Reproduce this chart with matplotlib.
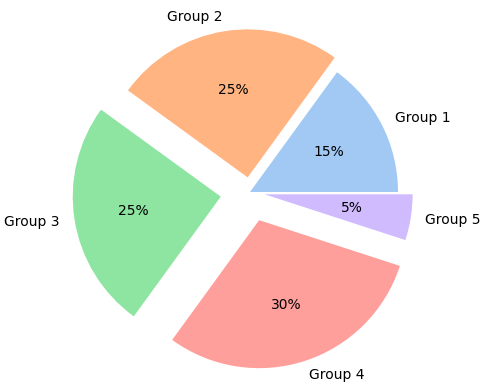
import matplotlib
matplotlib.use("Agg")
import matplotlib.pyplot as plt

labels = ["Group 1", "Group 2", "Group 3", "Group 4", "Group 5"]
sizes = [15, 25, 25, 30, 5]
explode = [0.0, 0.1, 0.2, 0.2, 0.1]
colors = ["#a1c9f4", "#ffb482", "#8de5a1", "#ff9f9b", "#d0bbff"]

fig = plt.figure(figsize=(4.88, 3.89), dpi=100)
ax = fig.add_axes([0, 0, 1, 1])
ax.pie(sizes, labels=labels, explode=explode, colors=colors, autopct="%1.0f%%",
       textprops={"fontsize": 10})
ax.set_xlim(-250 / 148, 238 / 148)
ax.set_ylim(-197 / 148, 192 / 148)
ax.set_aspect("equal")
ax.axis("off")
fig.savefig("out.png", dpi=100)
